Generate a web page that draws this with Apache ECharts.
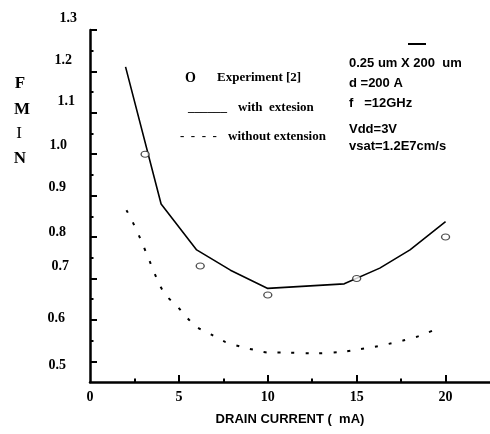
<!DOCTYPE html>
<html>
<head>
<meta charset="UTF-8">
<title>FMIN vs drain current</title>
<style>
  html, body { margin: 0; padding: 0; background: #fff; }
  #charts { width: 490px; height: 434px; }
</style>
</head>
<body>
<div id="charts"></div>
<script src="https://cdn.jsdelivr.net/npm/echarts@6/dist/echarts.min.js"></script>
<script>
// x tick labels / ticks (mA)
var xLabels = [0, 5, 10, 15, 20];
var xMinorTicks = [2.5, 7.5, 12.5, 17.5];
// y tick labels / ticks (FMIN, dB)
var yLabels = [0.5, 0.6, 0.7, 0.8, 0.9, 1.0, 1.1, 1.2, 1.3];
var yMinorTicks = [0.55, 0.65, 0.75, 0.85, 0.95, 1.05, 1.15, 1.25];

// with extension (solid line)
var withX = [2, 4, 6, 7.9, 10, 14.3, 16.3, 18, 20];
var withY = [1.211, 0.88, 0.769, 0.72, 0.676, 0.687, 0.725, 0.769, 0.837];

// without extension (dotted line)
var withoutX = [2.05, 2.35, 2.9, 3.4, 3.9, 4.3, 4.9, 5.4, 6.0, 6.8, 7.6, 8.5, 9.3, 10.1, 11.0, 12.6, 14.2, 15.1, 16.0, 16.8, 17.6, 18.5, 19.5];
var withoutY = [0.865, 0.841, 0.789, 0.737, 0.686, 0.658, 0.633, 0.608, 0.583, 0.565, 0.547, 0.535, 0.527, 0.521, 0.521, 0.519, 0.523, 0.529, 0.535, 0.542, 0.550, 0.561, 0.578];

// Experiment [2] (open circles)
var expX = [3.1, 6.2, 10, 15, 20];
var expY = [1.0, 0.73, 0.66, 0.70, 0.80];

function pairs(xs, ys) {
  var res = [];
  for (var i = 0; i < xs.length; i++) res.push([xs[i], ys[i]]);
  return res;
}

var serif = '"Liberation Serif", "Times New Roman", serif';
var sans = '"Liberation Sans", Arial, sans-serif';

// the y labels in the original sit a bit off their ticks: [up(+)/down(-), extra right gap]
var yLabelShift = {
  '1.3': [12, 0], '1.2': [11, 5], '1.1': [11, 2], '1.0': [9, 10], '0.9': [8, 11],
  '0.8': [5, 11], '0.7': [12, 8], '0.6': [1, 12], '0.5': [-4, 11]
};
var yRich = {};
Object.keys(yLabelShift).forEach(function (k) {
  var s = yLabelShift[k];
  var up = s[0];
  yRich['l' + k.replace('.', '')] = {
    fontFamily: serif, fontWeight: 'bold', fontSize: 14, color: '#000',
    padding: [up < 0 ? -2 * up : 0, s[1], up > 0 ? 2 * up : 0, 0]
  };
});

var mycharts = echarts.init(document.getElementById('charts'));

var axisBlack = { color: '#000', width: 2.5 };

var option = {
  backgroundColor: '#fff',
  animation: false,
  grid: { left: 90, right: 0, top: 30, bottom: 52 },
  xAxis: [
    {
      type: 'value', min: 0, max: 22.5, position: 'bottom',
      axisLine: { lineStyle: axisBlack },
      axisTick: { inside: true, length: 7, customValues: [5, 10, 15, 20], lineStyle: { color: '#000', width: 2 } },
      axisLabel: {
        customValues: xLabels, margin: 8,
        fontFamily: serif, fontWeight: 'bold', fontSize: 14, color: '#000'
      },
      splitLine: { show: false },
      name: 'DRAIN CURRENT (  mA)', nameLocation: 'middle', nameGap: 31,
      nameTextStyle: { fontFamily: sans, fontWeight: 'bold', fontSize: 13, color: '#000' }
    },
    {
      // minor ticks only
      type: 'value', min: 0, max: 22.5, position: 'bottom', offset: 0,
      axisLine: { show: false },
      axisTick: { inside: true, length: 3.5, customValues: xMinorTicks, lineStyle: { color: '#000', width: 2 } },
      axisLabel: { show: false },
      splitLine: { show: false }
    }
  ],
  yAxis: [
    {
      type: 'value', min: 0.45, max: 1.3, position: 'left',
      axisLine: { show: true, lineStyle: axisBlack },
      axisTick: { show: true, inside: true, length: 7, customValues: yLabels, lineStyle: { color: '#000', width: 2 } },
      axisLabel: {
        customValues: yLabels, margin: 13,
        formatter: function (v) {
          var k = v.toFixed(1);
          return '{l' + k.replace('.', '') + '|' + k + '}';
        },
        rich: yRich
      },
      splitLine: { show: false }
    },
    {
      type: 'value', min: 0.45, max: 1.3, position: 'left', offset: 0,
      axisLine: { show: false },
      axisTick: { show: true, inside: true, length: 3.5, customValues: yMinorTicks, lineStyle: { color: '#000', width: 2 } },
      axisLabel: { show: false },
      splitLine: { show: false }
    }
  ],
  graphic: [
    // FMIN
    { type: 'text', style: { text: 'F', x: 20, y: 84, align: 'center', verticalAlign: 'middle', font: 'bold 17px ' + serif, fill: '#000' } },
    { type: 'text', style: { text: 'M', x: 22, y: 110, align: 'center', verticalAlign: 'middle', font: 'bold 17px ' + serif, fill: '#000' } },
    { type: 'text', style: { text: 'I', x: 19, y: 134, align: 'center', verticalAlign: 'middle', font: '17px ' + serif, fill: '#000' } },
    { type: 'text', style: { text: 'N', x: 20, y: 159, align: 'center', verticalAlign: 'middle', font: 'bold 17px ' + serif, fill: '#000' } },
    // legend text
    { type: 'text', style: { text: 'O', x: 185, y: 78, verticalAlign: 'middle', font: 'bold 14px ' + serif, fill: '#000' } },
    { type: 'text', style: { text: 'Experiment [2]', x: 217, y: 78, verticalAlign: 'middle', font: 'bold 13px ' + serif, fill: '#000' } },
    { type: 'text', style: { text: '______', x: 188, y: 108, verticalAlign: 'middle', font: 'bold 13px ' + serif, fill: '#000' } },
    { type: 'text', style: { text: 'with  extesion', x: 238, y: 108, verticalAlign: 'middle', font: 'bold 13px ' + serif, fill: '#000' } },
    { type: 'text', style: { text: '-  -  -  -', x: 180, y: 137, verticalAlign: 'middle', font: 'bold 13px ' + serif, fill: '#000' } },
    { type: 'text', style: { text: 'without extension', x: 228, y: 137, verticalAlign: 'middle', font: 'bold 13px ' + serif, fill: '#000' } },
    // device annotation
    { type: 'rect', shape: { x: 408, y: 43, width: 18, height: 2 }, style: { fill: '#000' } },
    { type: 'text', style: { text: '0.25 um X 200  um', x: 349, y: 63, verticalAlign: 'middle', font: 'bold 13px ' + sans, fill: '#000' } },
    { type: 'text', style: { text: 'd =200 A', x: 349, y: 83, verticalAlign: 'middle', font: 'bold 13px ' + sans, fill: '#000' } },
    { type: 'text', style: { text: 'f   =12GHz', x: 349, y: 103, verticalAlign: 'middle', font: 'bold 13px ' + sans, fill: '#000' } },
    { type: 'text', style: { text: 'Vdd=3V', x: 349, y: 129, verticalAlign: 'middle', font: 'bold 13px ' + sans, fill: '#000' } },
    { type: 'text', style: { text: 'vsat=1.2E7cm/s', x: 349, y: 146, verticalAlign: 'middle', font: 'bold 13px ' + sans, fill: '#000' } }
  ],
  series: [
    {
      name: 'with extesion', type: 'line',
      data: pairs(withX, withY),
      showSymbol: false, symbol: 'none',
      lineStyle: { color: '#000', width: 1.6 }
    },
    {
      name: 'without extension', type: 'line',
      data: pairs(withoutX, withoutY),
      smooth: 0.3, symbol: 'none',
      lineStyle: { color: '#000', width: 2, type: [3, 11] }
    },
    {
      name: 'Experiment [2]', type: 'scatter',
      data: pairs(expX, expY),
      symbol: 'circle', symbolSize: [8, 6],
      itemStyle: { color: '#fff', borderColor: '#222', borderWidth: 1.2 },
      z: 5
    }
  ]
};
mycharts.setOption(option);
</script>
</body>
</html>
